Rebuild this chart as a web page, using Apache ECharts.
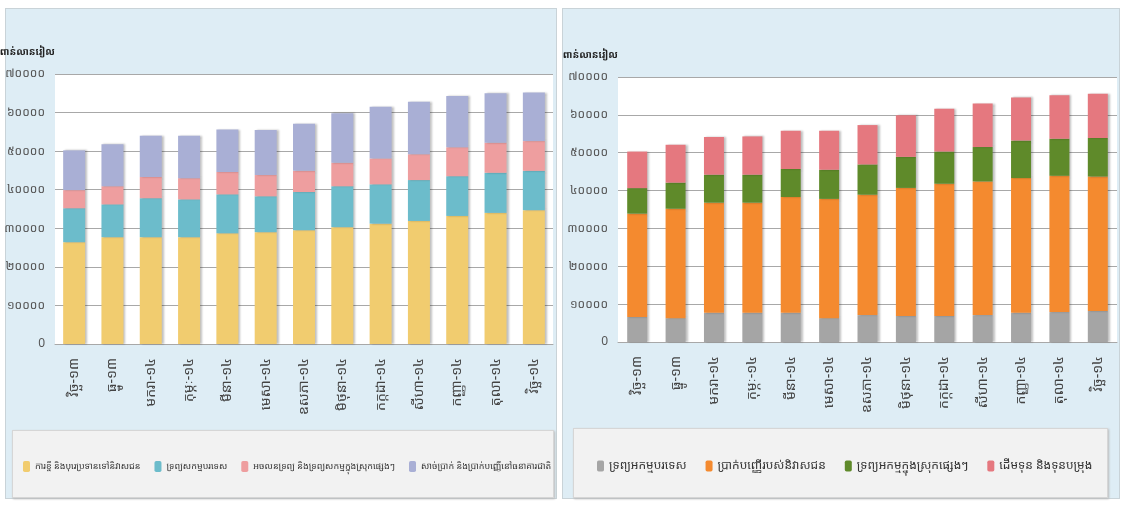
<!DOCTYPE html>
<html>
<head>
<meta charset="utf-8">
<script src="https://cdn.jsdelivr.net/npm/echarts@6/dist/echarts.min.js"></script>
<style>
  body { margin: 0; background: #fff; }
  .panel { position: absolute; top: 8px; height: 489px; background: #deedf5; border: 1px solid #c9d3d8; }
  .legbox { position: absolute; background: #f2f2f2; border: 1px solid #d6d6d6; box-shadow: 1px 1px 2px #bbb; }
  #chart { position: absolute; left: 0; top: 0; width: 1123px; height: 506px; }
</style>
</head>
<body>
<div class="panel" style="left:5px;width:550px;"></div>
<div class="panel" style="left:562px;width:556px;"></div>
<div class="legbox" style="left:12px;top:430px;width:540px;height:66px;"></div>
<div class="legbox" style="left:573px;top:428px;width:533px;height:68px;"></div>
<div id="chart"></div>
<script>
let months = ['វិច្ឆ-១៣', 'ធ្នូ-១៣', 'មករា-១៤', 'កុម្ភៈ-១៤', 'មីនា-១៤', 'មេសា-១៤', 'ឧសភា-១៤', 'មិថុនា-១៤', 'កក្កដា-១៤', 'សីហា-១៤', 'កញ្ញា-១៤', 'តុលា-១៤', 'វិច្ឆ-១៤']
let unitName = 'ពាន់លានរៀល'

// left chart: assets
let loansNames = ['ការខ្ចី និងបុរេប្រទានទៅនិវាសជន', 'ទ្រព្យសកម្មបរទេស', 'អចលនទ្រព្យ និងទ្រព្យសកម្មក្នុងស្រុកផ្សេងៗ', 'សាច់ប្រាក់ និងប្រាក់បញ្ញើនៅធនាគារជាតិ']
let loans = [26400, 27700, 27700, 27700, 28700, 29000, 29500, 30300, 31200, 31900, 33200, 34000, 34700]
let foreignAssets = [8800, 8500, 10100, 9800, 10100, 9300, 9900, 10600, 10200, 10600, 10300, 10400, 10200]
let otherAssets = [4700, 4700, 5500, 5500, 5800, 5500, 5500, 6100, 6700, 6700, 7500, 7800, 7700]
let cashNbc = [10300, 10900, 10700, 11000, 11000, 11650, 12200, 12800, 13400, 13600, 13300, 12800, 12600]

// right chart: liabilities
let liabNames = ['ទ្រព្យអកម្មបរទេស', 'ប្រាក់បញ្ញើរបស់និវាសជន', 'ទ្រព្យអកម្មក្នុងស្រុកផ្សេងៗ', 'ដើមទុន និងទុនបម្រុង']
let foreignLiab = [6600, 6300, 7700, 7700, 7700, 6300, 7100, 6900, 6900, 7100, 7700, 7900, 8200]
let deposits = [27300, 28900, 29100, 29100, 30600, 31500, 31800, 33800, 34900, 35300, 35600, 36000, 35500]
let otherLiab = [6750, 6900, 7400, 7400, 7400, 7700, 8000, 8200, 8500, 9100, 9900, 9800, 10200]
let capital = [9650, 10000, 9950, 10100, 10100, 10300, 10400, 11000, 11300, 11500, 11400, 11500, 11700]

let leftColors = ['#f1cc6f', '#6cbccb', '#ee9e9f', '#a9afd5']
let rightColors = ['#a5a5a5', '#f48a2f', '#5f8a2a', '#e5787f']

let khmerDigits = '០១២៣៤៥៦៧៨៩'
function toKhmer (v) {
  if (v === 0) return '0'
  return String(v).replace(/[0-9]/g, d => khmerDigits[+d])
}

let font = "'Noto Sans Khmer', 'Khmer OS', 'Noto Sans', sans-serif"

function yAxisFor (gridIndex) {
  return {
    type: 'value',
    gridIndex: gridIndex,
    min: 0,
    max: 70000,
    interval: 10000,
    name: unitName,
    nameLocation: 'end',
    nameGap: 17,
    nameTextStyle: { align: 'right', color: '#222', fontWeight: 'bold', fontSize: 10, fontFamily: font },
    axisLine: { show: false },
    axisTick: { show: false },
    axisLabel: { color: '#555', fontSize: 12, margin: 10, formatter: toKhmer, fontFamily: font },
    splitLine: { lineStyle: { color: '#a8a8a8', width: 1 } }
  }
}

function xAxisFor (gridIndex) {
  return {
    type: 'category',
    gridIndex: gridIndex,
    data: months,
    axisLine: { lineStyle: { color: '#a8a8a8' } },
    axisTick: { show: false },
    axisLabel: { rotate: 90, color: '#444', fontSize: 14, margin: 14, interval: 0, fontFamily: font }
  }
}

function stack (name, data, color, idx, width) {
  return {
    name: name,
    type: 'bar',
    stack: 's' + idx,
    xAxisIndex: idx,
    yAxisIndex: idx,
    barWidth: width,
    data: data,
    itemStyle: { color: color, shadowColor: 'rgba(0,0,0,0.25)', shadowBlur: 2, shadowOffsetX: 2 }
  }
}

let myChart = echarts.init(document.getElementById('chart'))
myChart.setOption({
  animation: false,
  textStyle: { fontFamily: font },
  grid: [
    { left: 55, top: 74, width: 498, height: 270, show: true, backgroundColor: '#fff', borderWidth: 0, outerBoundsMode: 'none' },
    { left: 618, top: 77, width: 499, height: 265, show: true, backgroundColor: '#fff', borderWidth: 0, outerBoundsMode: 'none' }
  ],
  legend: [
    {
      data: loansNames,
      left: 18,
      top: 456,
      itemWidth: 7,
      itemHeight: 11,
      itemGap: 14,
      textStyle: { color: '#333', fontSize: 9, fontFamily: font }
    },
    {
      data: liabNames,
      left: 592,
      top: 455,
      itemWidth: 7,
      itemHeight: 11,
      itemGap: 19,
      textStyle: { color: '#333', fontSize: 12, fontFamily: font }
    }
  ],
  xAxis: [xAxisFor(0), xAxisFor(1)],
  yAxis: [yAxisFor(0), yAxisFor(1)],
  series: [
    stack(loansNames[0], loans, leftColors[0], 0, 22),
    stack(loansNames[1], foreignAssets, leftColors[1], 0, 22),
    stack(loansNames[2], otherAssets, leftColors[2], 0, 22),
    stack(loansNames[3], cashNbc, leftColors[3], 0, 22),
    stack(liabNames[0], foreignLiab, rightColors[0], 1, 20),
    stack(liabNames[1], deposits, rightColors[1], 1, 20),
    stack(liabNames[2], otherLiab, rightColors[2], 1, 20),
    stack(liabNames[3], capital, rightColors[3], 1, 20)
  ]
})
</script>
</body>
</html>
